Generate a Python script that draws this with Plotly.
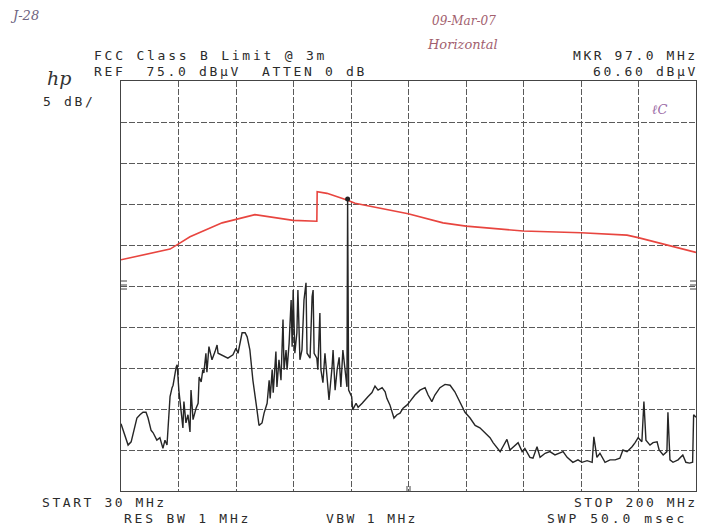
import plotly.graph_objects as go

# ---------------- data ----------------
x_start_mhz = 30
x_stop_mhz = 200
ref_level = 75.0
db_per_div = 5

limit_freq = [30, 44.5, 46.9, 50.4, 59.9, 69.6, 80.9, 87.9, 88.0, 90.9, 96.8, 99.2,
              114.9, 125.2, 132.0, 140.0, 148.9, 166.0, 179.6, 182.9, 191.4, 200]
limit_db = [53.2, 54.5, 55.1, 56.0, 57.7, 58.7, 58.0, 57.9, 61.5, 61.3, 60.5, 60.1,
            58.8, 57.7, 57.3, 57.0, 56.7, 56.5, 56.2, 55.9, 55.0, 54.1]

trace_freq = [30.0, 30.6, 31.5, 32.1, 33.0, 33.5, 34.7, 35.6, 36.5, 37.4, 38.0, 38.9, 39.5,
              40.6, 41.5, 42.4, 43.0, 43.6, 43.9, 44.5, 45.1, 45.4, 46.3, 46.6, 47.1, 47.7,
              48.3, 48.6, 49.2, 49.8, 50.4, 50.7, 51.3, 52.2, 52.8, 53.1, 53.7, 54.2, 54.5,
              55.1, 55.4, 56.0, 56.9, 57.8, 58.4, 58.7, 60.2, 61.6, 63.1, 64.0, 64.6, 65.8,
              66.7, 67.3, 68.1, 69.0, 70.2, 70.8, 71.7, 72.3, 73.2, 73.8, 74.1, 74.7, 75.0,
              75.8, 76.1, 76.7, 77.3, 77.9, 78.2, 78.8, 79.1, 79.7, 80.3, 80.6, 80.9, 81.4,
              82.0, 82.3, 82.9, 83.5, 84.1, 84.7, 85.0, 85.9, 86.5, 86.8, 87.1, 87.9, 88.2,
              88.8, 89.1, 89.7, 90.3, 90.9, 91.5, 92.4, 92.7, 93.3, 93.9, 94.5, 95.0, 95.6,
              96.2, 96.8, 97.0, 97.3, 98.2, 98.5, 99.5, 100.1, 101.3, 102.1, 103.0, 104.2,
              105.1, 106.0, 107.2, 108.1, 108.6, 109.5, 110.7, 111.6, 112.5, 113.4, 114.6,
              115.4, 116.9, 118.4, 119.9, 120.8, 121.9, 122.8, 124.3, 125.8, 127.3, 128.7,
              130.2, 131.7, 133.2, 134.7, 136.1, 137.6, 139.1, 140.0, 141.2, 142.1, 142.9,
              144.1, 145.0, 146.5, 147.4, 148.6, 149.4, 150.9, 151.8, 153.0, 153.9, 155.4,
              156.8, 158.3, 159.8, 160.7, 161.9, 162.7, 163.6, 165.1, 166.3, 167.8, 169.3,
              169.8, 170.7, 171.6, 173.1, 174.6, 176.1, 177.5, 178.4, 179.6, 181.1, 182.0,
              182.9, 184.0, 184.6, 185.2, 186.4, 187.3, 188.5, 189.1, 190.3, 191.4, 191.7,
              192.3, 193.2, 194.7, 196.1, 197.0, 198.1, 199.0, 199.3, 200.0]
trace_db = [33.2, 32.4, 31.2, 30.6, 31.0, 31.8, 33.9, 34.3, 34.6, 34.6, 33.9, 32.4, 32.1,
            31.2, 31.5, 30.2, 31.2, 30.6, 33.0, 36.5, 37.6, 37.9, 40.1, 40.4, 37.3, 35.2,
            32.7, 35.9, 33.3, 34.3, 32.2, 37.3, 33.7, 35.1, 35.7, 38.9, 38.3, 39.8, 39.4,
            41.8, 39.5, 42.6, 41.0, 42.0, 42.8, 41.8, 41.5, 41.2, 41.6, 42.4, 41.8, 44.3,
            44.3, 43.8, 42.2, 38.5, 34.9, 33.0, 33.3, 34.5, 35.7, 38.5, 36.3, 39.8, 37.0,
            42.0, 37.7, 41.0, 38.5, 45.9, 39.8, 42.2, 39.8, 43.0, 48.3, 42.6, 49.5, 41.8,
            44.3, 49.5, 41.0, 42.2, 48.3, 50.4, 41.8, 41.2, 48.7, 49.5, 41.8, 41.2, 39.8,
            46.7, 39.8, 38.2, 41.8, 38.9, 36.1, 40.1, 42.2, 37.3, 39.8, 41.3, 37.7, 42.2,
            40.1, 37.7, 60.6, 37.3, 36.5, 34.9, 35.7, 35.2, 35.7, 36.1, 36.5, 37.0,
            37.8, 37.3, 37.6, 37.1, 36.3, 35.5, 33.9, 34.3, 34.5, 35.1, 35.5,
            35.9, 36.7, 37.3, 37.6, 36.7, 35.9, 36.7, 37.6, 38.0, 37.9, 37.1,
            35.9, 34.6, 33.9, 33.0, 32.7, 32.1, 31.5, 30.9, 30.2, 29.8, 30.4,
            31.3, 30.0, 30.6, 30.9, 29.8, 30.2, 29.1, 29.0, 30.4, 29.1, 29.6,
            29.8, 29.4, 29.6, 29.8, 29.1, 28.8, 28.5, 28.8, 28.5, 28.7, 28.5,
            31.6, 29.1, 29.6, 28.5, 28.8, 28.8, 29.0, 30.0, 29.8, 30.4, 30.9,
            31.5, 31.0, 35.9, 31.2, 30.6, 30.9, 31.0, 30.0, 29.4, 29.8, 34.6,
            28.8, 28.5, 28.8, 29.4, 28.5, 28.4, 28.5, 34.3, 34.0]

marker_freq = [97.0]
marker_db = [60.60]

# ---------------- geometry helpers (pixels -> paper) ----------------
W, H = 714, 527
L, R, T, B = 121, 696, 81, 491


def px(x):
    return (x - L) / (R - L)


def py(y):
    return (B - y) / (B - T)


fig = go.Figure()
fig.add_trace(go.Scatter(x=limit_freq, y=limit_db, mode="lines",
                         line=dict(color="#e8453f", width=1.6), hoverinfo="skip",
                         showlegend=False))
fig.add_trace(go.Scatter(x=trace_freq, y=trace_db, mode="lines",
                         line=dict(color="#262626", width=1.4), showlegend=False))
fig.add_trace(go.Scatter(x=marker_freq, y=marker_db, mode="markers",
                         marker=dict(color="#222", size=5, symbol="circle"),
                         showlegend=False))

annotations = []
MONO = "DejaVu Sans Mono"
INK = "#2b2b2b"
FS = 13
CHAR_W = 0.602 * FS


def plot_text(text, x, yc, pitch, anchor="left"):
    spacing = pitch - CHAR_W
    t = text.replace("  ", "\u00a0\u00a0")
    annotations.append(dict(
        x=px(x), y=py(yc), xref="paper", yref="paper",
        text='<span style="letter-spacing:%.2fpx">%s</span>' % (spacing, t),
        showarrow=False, xanchor=anchor, yanchor="middle", borderpad=0,
        font=dict(family=MONO, size=FS, color=INK)))


plot_text("FCC Class B Limit @ 3m", 93, 56, 10.6)
plot_text("REF  75.0 dBμV  ATTEN 0 dB", 93, 71.5, 10.5)
plot_text("MKR 97.0 MHz", 699, 56, 10.4, anchor="right")
plot_text("60.60 dBμV", 699, 71.5, 10.5, anchor="right")
plot_text("5 dB/", 42, 101, 10.5)
plot_text("START 30 MHz", 41, 502, 10.4)
plot_text("STOP 200 MHz", 699, 502, 10.3, anchor="right")
plot_text("RES BW 1 MHz", 123, 518, 10.6)
plot_text("VBW 1 MHz", 325, 518, 10.2)
plot_text("SWP 50.0 msec", 546, 518, 10.8)

# hp logo
annotations.append(dict(x=px(59), y=py(78), xref="paper", yref="paper",
                        text="<i>hp</i>", showarrow=False, xanchor="center",
                        yanchor="middle",
                        font=dict(family="DejaVu Serif", size=19, color="#333")))

# handwritten notes
HAND = "DejaVu Serif"
annotations.append(dict(x=px(8), y=py(15), xref="paper", yref="paper",
                        text="<i>J-28</i>", showarrow=False, xanchor="left",
                        yanchor="middle",
                        font=dict(family=HAND, size=13, color="#6e6480")))
annotations.append(dict(x=px(430), y=py(21), xref="paper", yref="paper",
                        text="<i>09-Mar-07</i>", showarrow=False, xanchor="left",
                        yanchor="middle",
                        font=dict(family=HAND, size=12, color="#a2606e")))
annotations.append(dict(x=px(425), y=py(45), xref="paper", yref="paper",
                        text="<i>Horizontal</i>", showarrow=False, xanchor="left",
                        yanchor="middle",
                        font=dict(family=HAND, size=13, color="#a2606e")))
annotations.append(dict(x=px(650), y=py(110), xref="paper", yref="paper",
                        text="<i>ℓC</i>", showarrow=False, xanchor="left",
                        yanchor="middle",
                        font=dict(family=HAND, size=13, color="#9a6aa6")))

# small plotter reference ticks on the frame
shapes = []
for yy in (281, 285, 289):
    shapes.append(dict(type="line", xref="paper", yref="paper",
                       x0=px(121), x1=px(127), y0=py(yy), y1=py(yy),
                       line=dict(color="#444", width=1)))
    shapes.append(dict(type="line", xref="paper", yref="paper",
                       x0=px(690), x1=px(696), y0=py(yy), y1=py(yy),
                       line=dict(color="#444", width=1)))
for xx in (407, 410):
    shapes.append(dict(type="line", xref="paper", yref="paper",
                       x0=px(xx), x1=px(xx), y0=py(491), y1=py(486),
                       line=dict(color="#444", width=1)))

fig.update_layout(
    width=W, height=H,
    margin=dict(l=L, r=W - R, t=T, b=H - B),
    paper_bgcolor="white", plot_bgcolor="white",
    annotations=annotations, shapes=shapes,
    showlegend=False,
)
fig.update_xaxes(range=[x_start_mhz, x_stop_mhz], dtick=(x_stop_mhz - x_start_mhz) / 10,
                 tick0=x_start_mhz, showticklabels=False, ticks="",
                 showgrid=True, gridcolor="#5a5a5a", gridwidth=1, griddash="6px,2px",
                 showline=True, linecolor="#444", linewidth=1, mirror=True,
                 zeroline=False, fixedrange=True)
fig.update_yaxes(range=[ref_level - 10 * db_per_div, ref_level], dtick=db_per_div,
                 tick0=ref_level, showticklabels=False, ticks="",
                 showgrid=True, gridcolor="#5a5a5a", gridwidth=1, griddash="6px,2px",
                 showline=True, linecolor="#444", linewidth=1, mirror=True,
                 zeroline=False, fixedrange=True)

fig.write_html("out.html")
